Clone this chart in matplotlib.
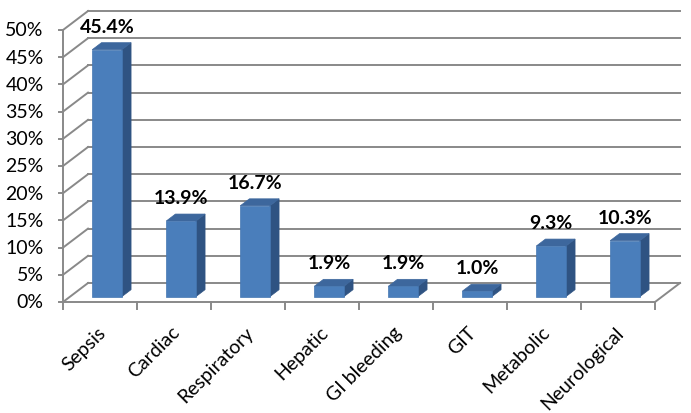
import matplotlib.pyplot as plt
from matplotlib.patches import Polygon

plt.rcParams['font.family'] = ['Lato', 'DejaVu Sans']

categories = ["Sepsis", "Cardiac", "Respiratory", "Hepatic", "GI bleeding",
              "GIT", "Metabolic", "Neurological"]
values = [45.4, 13.9, 16.7, 1.9, 1.9, 1.0, 9.3, 10.3]
yticks = list(range(0, 51, 5))

# oblique 3D look (Excel style): depth offset of the back wall, in data units
ox, oy = 0.338, 3.49
d1, d2 = 0.28, 0.65   # bar front/back depth
w = 0.40              # bar width
grid_col = "#898989"

fig = plt.figure(figsize=(6.91, 4.14), dpi=100)
ax = fig.add_axes([63 / 691, 1 - 303 / 414, 592 / 691, 272 / 414])
ax.set_xlim(0, len(categories))
ax.set_ylim(0, 50)
ax.axis("off")

n = len(categories)

# back wall grid + left wall diagonals
for v in yticks:
    ax.plot([ox, n + ox], [v + oy, v + oy], color=grid_col, lw=1.4, clip_on=False, zorder=1)
    ax.plot([0, ox], [v, v + oy], color=grid_col, lw=1.4, clip_on=False, zorder=1)
    ax.plot([-0.055, 0], [v, v], color=grid_col, lw=1.4, clip_on=False, zorder=1)
    ax.text(-0.26, v, f"{v}%", ha="right", va="center", fontsize=14, clip_on=False)

# floor and front axis
ax.plot([0, n], [0, 0], color=grid_col, lw=1.4, clip_on=False, zorder=1)
ax.plot([n, n + ox], [0, oy], color=grid_col, lw=1.4, clip_on=False, zorder=1)
ax.plot([0, 0], [0, 50], color=grid_col, lw=1.4, clip_on=False, zorder=1)
for i in range(n + 1):
    ax.plot([i, i], [0, -1.3], color=grid_col, lw=1.4, clip_on=False, zorder=1)

for i, (cat, v) in enumerate(zip(categories, values)):
    c = i + 0.5
    x0, x1 = c - w / 2, c + w / 2
    front = [(x0 + d1 * ox, d1 * oy), (x1 + d1 * ox, d1 * oy),
             (x1 + d1 * ox, v + d1 * oy), (x0 + d1 * ox, v + d1 * oy)]
    side = [(x1 + d1 * ox, d1 * oy), (x1 + d2 * ox, d2 * oy),
            (x1 + d2 * ox, v + d2 * oy), (x1 + d1 * ox, v + d1 * oy)]
    top = [(x0 + d1 * ox, v + d1 * oy), (x1 + d1 * ox, v + d1 * oy),
           (x1 + d2 * ox, v + d2 * oy), (x0 + d2 * ox, v + d2 * oy)]
    ax.add_patch(Polygon(side, closed=True, fc="#2F5382", ec="#2F5382", lw=0.5, zorder=3, clip_on=False))
    ax.add_patch(Polygon(top, closed=True, fc="#3D679D", ec="#3D679D", lw=0.5, zorder=3, clip_on=False))
    ax.add_patch(Polygon(front, closed=True, fc="#4A7EBB", ec="#4577B2", lw=0.5, zorder=4, clip_on=False))

    ax.annotate(f"{v:.1f}%", xy=(c + d1 * ox, v + d1 * oy), xytext=(0, 17),
                textcoords="offset points", ha="center", va="center",
                fontsize=14, fontweight="bold", zorder=5)

    ax.annotate(cat, xy=(c, 0), xytext=(-2, -15), textcoords="offset points",
                ha="right", va="top", rotation=45, rotation_mode="anchor",
                fontsize=14)

fig.savefig("out.png", dpi=100)
